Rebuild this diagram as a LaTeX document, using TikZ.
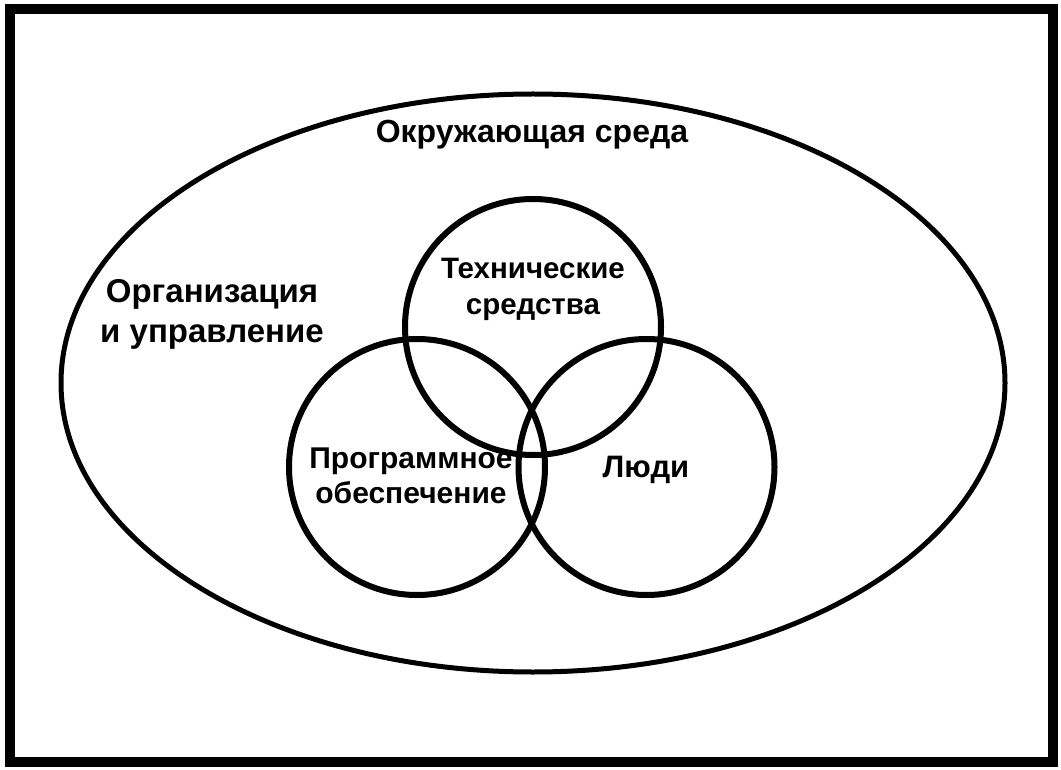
\documentclass[tikz,border=0pt]{standalone}
\usepackage{fontspec}
\setmainfont{Liberation Sans}
\begin{document}
\begin{tikzpicture}[x=1pt,y=-1pt,
  ring/.style={draw=black,line width=6pt,circle,minimum size=256pt,inner sep=0pt},
  lbl/.style={anchor=base,inner sep=0pt}]
\useasboundingbox (0,0) rectangle (1061,770);
\draw[line width=10pt] (10,9) rectangle (1053,762);
\draw[line width=5pt] (533,383) ellipse [x radius=472, y radius=289];
\node[ring] (tech) at (533,327) {};
\node[ring] (soft) at (417,467) {};
\node[ring] (people) at (646.5,467) {};
\node[lbl,font=\bfseries\fontsize{32}{32}\selectfont] (env) at (532,143) {Окружающая среда};
\node[lbl,font=\bfseries\fontsize{33}{33}\selectfont] (org1) at (212,303) {Организация};
\node[lbl,font=\bfseries\fontsize{33}{33}\selectfont] (org2) at (212,342) {и управление};
\node[lbl,font=\bfseries\fontsize{29.5}{29.5}\selectfont] (tech1) at (533,279) {Технические};
\node[lbl,font=\bfseries\fontsize{29.5}{29.5}\selectfont] (tech2) at (533,315) {средства};
\node[lbl,font=\bfseries\fontsize{30}{30}\selectfont] (soft1) at (411,468) {Программное};
\node[lbl,font=\bfseries\fontsize{30}{30}\selectfont] (soft2) at (411,503) {обеспечение};
\node[lbl,font=\bfseries\fontsize{31}{31}\selectfont] (people1) at (646,477) {Люди};
\end{tikzpicture}
\end{document}
